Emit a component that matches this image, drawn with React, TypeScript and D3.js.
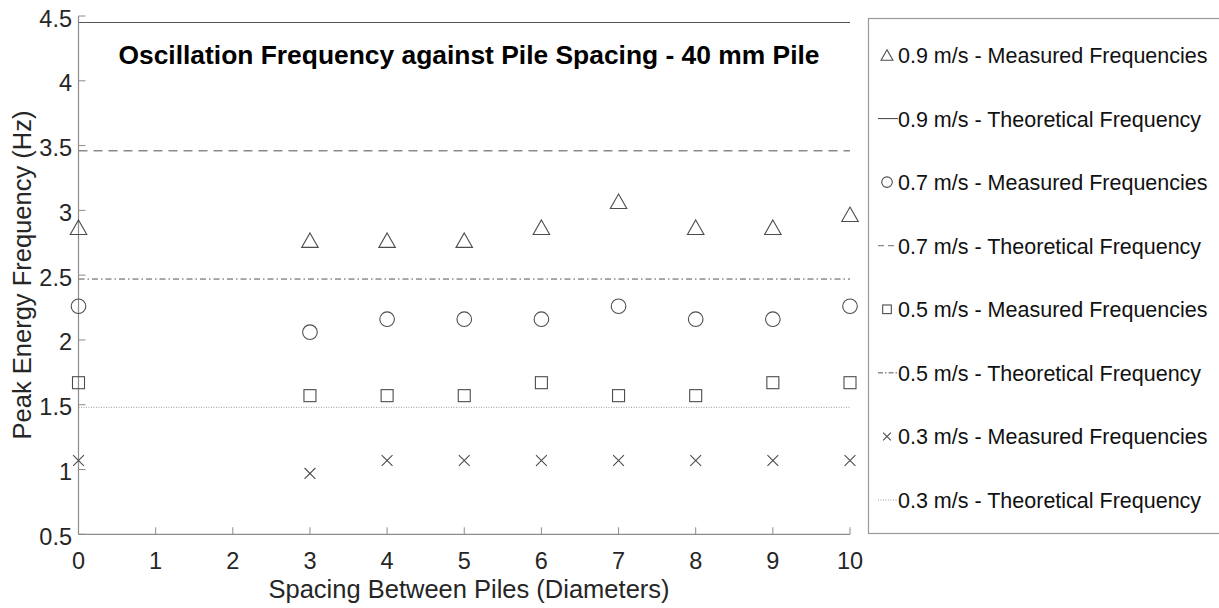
import React from "react";
import * as d3 from "d3";

const spacings = [0, 3, 4, 5, 6, 7, 8, 9, 10];
const measured09 = [2.87, 2.77, 2.77, 2.77, 2.87, 3.07, 2.87, 2.87, 2.97];
const measured07 = [2.26, 2.06, 2.16, 2.16, 2.16, 2.26, 2.16, 2.16, 2.26];
const measured05 = [1.67, 1.57, 1.57, 1.57, 1.67, 1.57, 1.57, 1.67, 1.67];
const measured03 = [1.07, 0.97, 1.07, 1.07, 1.07, 1.07, 1.07, 1.07, 1.07];
const theoretical = [4.45, 3.46, 2.47, 1.48]; // 0.9, 0.7, 0.5, 0.3 m/s
const xTicks = [0, 1, 2, 3, 4, 5, 6, 7, 8, 9, 10];
const yTicks = [0.5, 1, 1.5, 2, 2.5, 3, 3.5, 4, 4.5];
const legendLabels = [
  "0.9 m/s - Measured Frequencies",
  "0.9 m/s - Theoretical Frequency",
  "0.7 m/s - Measured Frequencies",
  "0.7 m/s - Theoretical Frequency",
  "0.5 m/s - Measured Frequencies",
  "0.5 m/s - Theoretical Frequency",
  "0.3 m/s - Measured Frequencies",
  "0.3 m/s - Theoretical Frequency",
];

const FONT = "'Liberation Sans', Arial, Helvetica, sans-serif";
const W = 1219;
const H = 608;

type MarkerKind = "tri" | "circ" | "sq" | "x";

function Marker({ kind, cx, cy, s = 1 }: { kind: MarkerKind; cx: number; cy: number; s?: number }) {
  const st = { fill: "none", stroke: "#4d4d4d", strokeWidth: 1.1 };
  if (kind === "tri") {
    const w = 16.5 * s, h = 14.5 * s;
    const pts = [[cx, cy - h / 2], [cx + w / 2, cy + h / 2], [cx - w / 2, cy + h / 2]];
    return <polygon points={pts.map((p) => p.join(",")).join(" ")} {...st} />;
  }
  if (kind === "circ") return <circle cx={cx} cy={cy} r={7.3 * s} {...st} />;
  if (kind === "sq") {
    const a = 12 * s;
    return <rect x={cx - a / 2} y={cy - a / 2} width={a} height={a} {...st} />;
  }
  const a = 5.4 * s;
  return (
    <path d={`M${cx - a},${cy - a}L${cx + a},${cy + a}M${cx - a},${cy + a}L${cx + a},${cy - a}`} {...st} />
  );
}

const lineStyles = [
  { dash: undefined as string | undefined, color: "#555555", width: 1.1 },
  { dash: "9,6", color: "#8a8a8a", width: 1.3 },
  { dash: "6,3,1.5,3", color: "#555555", width: 1 },
  { dash: "1,1.5", color: "#9a9a9a", width: 1 },
];

export default function App() {
  const x = d3.scaleLinear().domain([0, 10]).range([78.5, 850]);
  const y = d3.scaleLinear().domain([0.5, 4.5]).range([534.3, 16]);
  const measured = [measured09, measured07, measured05, measured03];
  const kinds: MarkerKind[] = ["tri", "circ", "sq", "x"];
  const axisColor = "#8c8c8c";
  const textColor = "#262626";

  const legendX = 868.5;
  const legendTop = 18.5;
  const legendBottom = 533.5;
  const rowY = d3.scaleLinear().domain([0, 7]).range([55, 500]);

  return (
    <svg
      width={W}
      height={H}
      style={{ position: "absolute", left: 0, top: 0, background: "#fff" }}
      fontFamily={FONT}
    >
      <rect x={0} y={0} width={W} height={H} fill="#fff" />
      {/* theoretical lines */}
      {theoretical.map((v, i) => (
        <line
          key={"t" + i}
          x1={x(0)}
          x2={x(10)}
          y1={y(v)}
          y2={y(v)}
          stroke={lineStyles[i].color}
          strokeWidth={lineStyles[i].width}
          strokeDasharray={lineStyles[i].dash}
        />
      ))}
      {/* axes */}
      <line x1={x(0)} x2={x(0)} y1={y(4.5)} y2={y(0.5)} stroke={axisColor} strokeWidth={1.2} />
      <line x1={x(0)} x2={x(10)} y1={y(0.5)} y2={y(0.5)} stroke={axisColor} strokeWidth={1.2} />
      {yTicks.map((t) => (
        <g key={"yt" + t}>
          <line x1={x(0)} x2={x(0) + 7} y1={y(t)} y2={y(t)} stroke={axisColor} strokeWidth={1} />
          <text
            x={72}
            y={y(t) + 10.5}
            textAnchor="end"
            fontSize={23.5}
            fill={textColor}
          >
            {t}
          </text>
        </g>
      ))}
      {xTicks.map((t) => (
        <g key={"xt" + t}>
          <line x1={x(t)} x2={x(t)} y1={y(0.5)} y2={y(0.5) - 7} stroke={axisColor} strokeWidth={1} />
          <text x={x(t)} y={569} textAnchor="middle" fontSize={23.5} fill={textColor}>
            {t}
          </text>
        </g>
      ))}
      {/* measured markers */}
      {measured.map((series, si) =>
        series.map((v, j) => (
          <Marker key={`m${si}-${j}`} kind={kinds[si]} cx={x(spacings[j])} cy={y(v)} />
        ))
      )}
      {/* labels */}
      <text x={469} y={64} textAnchor="middle" fontSize={26.4} fontWeight="bold" fill="#000">
        Oscillation Frequency against Pile Spacing - 40 mm Pile
      </text>
      <text x={469} y={598} textAnchor="middle" fontSize={25.5} fill={textColor}>
        Spacing Between Piles (Diameters)
      </text>
      <text
        transform={`translate(31,${275}) rotate(-90)`}
        textAnchor="middle"
        fontSize={25.5}
        fill={textColor}
      >
        Peak Energy Frequency (Hz)
      </text>
      {/* legend */}
      <rect
        x={legendX}
        y={legendTop}
        width={W - legendX + 10}
        height={legendBottom - legendTop}
        fill="#fff"
        stroke="#9a9a9a"
        strokeWidth={1.2}
      />
      {legendLabels.map((lab, i) => {
        const cy = rowY(i);
        const si = Math.floor(i / 2);
        const isLine = i % 2 === 1;
        return (
          <g key={"lg" + i}>
            {isLine ? (
              <line
                x1={878}
                x2={898}
                y1={cy}
                y2={cy}
                stroke={lineStyles[si].color}
                strokeWidth={lineStyles[si].width}
                strokeDasharray={
                  si === 1 ? "6,4" : si === 2 ? "5,2,1.5,2" : lineStyles[si].dash
                }
              />
            ) : (
              <Marker kind={kinds[si]} cx={887} cy={cy} s={0.72} />
            )}
            <text x={898} y={cy + 8} fontSize={21.5} fill="#111">
              {lab}
            </text>
          </g>
        );
      })}
    </svg>
  );
}
